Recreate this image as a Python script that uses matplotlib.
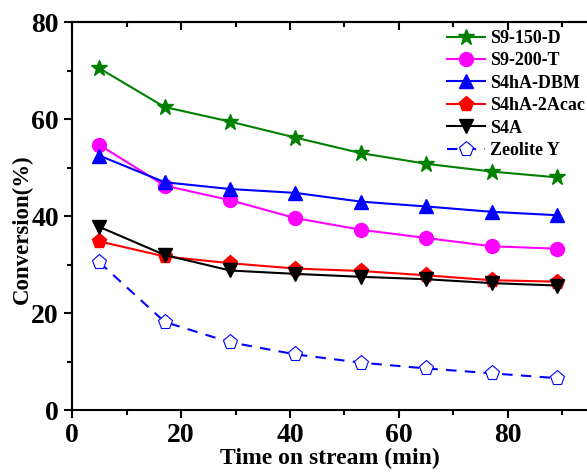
import matplotlib
matplotlib.use('Agg')
import matplotlib.pyplot as plt
from matplotlib.ticker import MultipleLocator

plt.rcParams['font.family'] = 'Liberation Serif'
plt.rcParams['font.weight'] = 'bold'

time = [5, 17, 29, 41, 53, 65, 77, 89]
s9_150_d = [70.5, 62.5, 59.5, 56.2, 53.0, 50.8, 49.2, 48.0]
s9_200_t = [54.7, 46.3, 43.3, 39.6, 37.2, 35.5, 33.8, 33.3]
s4ha_dbm = [52.5, 47.0, 45.6, 44.8, 43.0, 42.0, 40.9, 40.2]
s4ha_2acac = [34.8, 31.7, 30.3, 29.2, 28.7, 27.8, 26.8, 26.5]
s4a = [37.8, 32.0, 28.8, 28.1, 27.5, 27.0, 26.2, 25.7]
zeolite_y = [30.5, 18.2, 14.0, 11.5, 9.8, 8.6, 7.6, 6.6]

fig = plt.figure(figsize=(5.87, 4.72), dpi=100)
ax = fig.add_axes([0.1227, 0.131, 0.8773, 0.822])

ax.plot(time, s9_150_d, color='green', marker='*', markersize=12, lw=1.5, label='S9-150-D')
ax.plot(time, s9_200_t, color='magenta', marker='o', markersize=10, lw=1.5, label='S9-200-T')
ax.plot(time, s4ha_dbm, color='blue', marker='^', markersize=10, lw=1.5, label='S4hA-DBM')
ax.plot(time, s4ha_2acac, color='red', marker='p', markersize=11, lw=1.5, label='S4hA-2Acac')
ax.plot(time, s4a, color='black', marker='v', markersize=10, lw=1.5, label='S4A')
ax.plot(time, zeolite_y, color='blue', marker='p', markersize=11, lw=1.5, ls=(0, (5, 4)),
        markerfacecolor='white', markeredgewidth=0.8, label='Zeolite Y')

ax.set_xlim(0, 94.5)
ax.set_ylim(0, 80)
ax.xaxis.set_major_locator(MultipleLocator(20))
ax.xaxis.set_minor_locator(MultipleLocator(10))
ax.yaxis.set_major_locator(MultipleLocator(20))
ax.yaxis.set_minor_locator(MultipleLocator(10))
ax.spines['right'].set_visible(False)
for s in ['left', 'bottom', 'top']:
    ax.spines[s].set_linewidth(1.5)
ax.tick_params(axis='both', which='major', direction='out', length=6, width=1.5, labelsize=20)
ax.tick_params(axis='both', which='minor', direction='out', length=3.5, width=1.5)

top = ax.secondary_xaxis('top')
top.xaxis.set_major_locator(MultipleLocator(20))
top.xaxis.set_minor_locator(MultipleLocator(10))
top.tick_params(which='major', direction='in', length=6, width=1.5, labeltop=False)
top.tick_params(which='minor', direction='in', length=3.5, width=1.5)
top.spines['top'].set_linewidth(1.5)

for lab in ax.get_xticklabels() + ax.get_yticklabels():
    lab.set_fontweight('bold')

ax.set_xlabel('Time on stream (min)', fontsize=17, fontweight='bold', labelpad=0)
ax.set_ylabel('Conversion(%)', fontsize=16.5, fontweight='bold')
ax.yaxis.set_label_coords(-0.076, 0.466)

leg = ax.legend(loc='upper left', frameon=False, handlelength=2.1,
                labelspacing=0.3, borderaxespad=0, borderpad=0, handletextpad=0.3,
                bbox_to_anchor=(0.728, 0.98),
                prop={'weight': 'bold', 'size': 13})

fig.savefig('out.png', dpi=100)
